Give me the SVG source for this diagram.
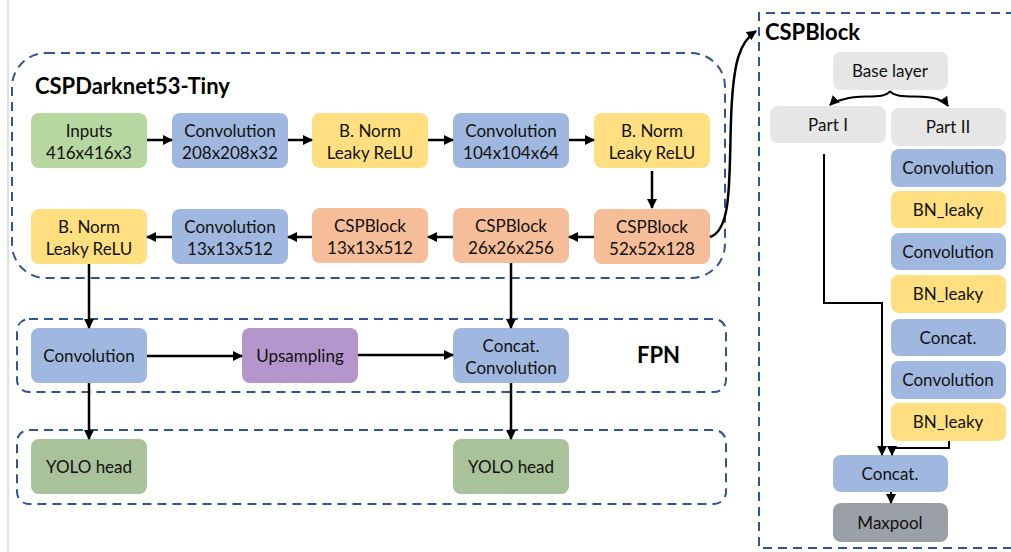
<svg xmlns="http://www.w3.org/2000/svg" width="1011" height="552" viewBox="0 0 1011 552">
<defs>
<marker id="ah" viewBox="0 0 10 10" refX="9" refY="5" markerWidth="4" markerHeight="4" orient="auto" markerUnits="strokeWidth">
<path d="M0,0 L10,5 L0,10 z" fill="#000"/>
</marker>
<marker id="ah2" viewBox="0 0 10 10" refX="9" refY="5" markerWidth="5" markerHeight="5" orient="auto" markerUnits="strokeWidth">
<path d="M0,0 L10,5 L0,10 z" fill="#000"/>
</marker>
</defs>
<style>
.grp{fill:none;stroke:#2f5597;stroke-width:2;stroke-dasharray:9 6}
.n{rx:8;ry:8}
.green{fill:#b7d7a0}
.blue{fill:#a0b8e0}
.yellow{fill:#ffdf80}
.orange{fill:#f5bd98}
.purple{fill:#b596cc}
.yolo{fill:#a9c29a}
.gray{fill:#e6e6e6}
.dark{fill:#9ba0a6}
text{font-family:Lato,"Open Sans","Liberation Sans",sans-serif;font-size:17px;fill:#111;text-anchor:middle}
.title{font-weight:bold;font-size:22px;fill:#000;text-anchor:start}
.c{fill:none;stroke:#000;stroke-width:2.5}
.c2{fill:none;stroke:#000;stroke-width:2}
</style>
<rect width="1011" height="552" fill="#fff"/>
<line x1="8" y1="0" x2="8" y2="552" stroke="#d4d4d4" stroke-width="1.5"/>

<g id="groups">
<rect class="grp" x="12" y="53" width="713" height="225" rx="34"/>
<rect class="grp" x="17" y="319" width="709" height="73" rx="12"/>
<rect class="grp" x="17" y="430" width="709" height="74" rx="12"/>
<path class="grp" d="M1015,13 H759 V548 H1015"/>
<text class="title" x="35" y="94">CSPDarknet53-Tiny</text>
<text class="title" x="765" y="40">CSPBlock</text>
<text class="title" x="637" y="363">FPN</text>
</g>

<g id="n-inputs"><rect class="n green" x="31" y="113" width="116" height="55"/><text x="89" y="137">Inputs</text><text x="89" y="159">416x416x3</text></g>
<g id="n-conv1"><rect class="n blue" x="172" y="113" width="116" height="55"/><text x="230" y="137">Convolution</text><text x="230" y="159">208x208x32</text></g>
<g id="n-bn1"><rect class="n yellow" x="312" y="113" width="116" height="55"/><text x="370" y="137">B. Norm</text><text x="370" y="159">Leaky ReLU</text></g>
<g id="n-conv2"><rect class="n blue" x="453" y="113" width="116" height="55"/><text x="511" y="137">Convolution</text><text x="511" y="159">104x104x64</text></g>
<g id="n-bn2"><rect class="n yellow" x="594" y="113" width="116" height="55"/><text x="652" y="137">B. Norm</text><text x="652" y="159">Leaky ReLU</text></g>

<g id="n-bn3"><rect class="n yellow" x="31" y="209" width="116" height="55"/><text x="89" y="233">B. Norm</text><text x="89" y="255">Leaky ReLU</text></g>
<g id="n-conv3"><rect class="n blue" x="172" y="209" width="116" height="55"/><text x="230" y="233">Convolution</text><text x="230" y="255">13x13x512</text></g>
<g id="n-csp13"><rect class="n orange" x="312" y="208" width="116" height="55"/><text x="370" y="232">CSPBlock</text><text x="370" y="254">13x13x512</text></g>
<g id="n-csp26"><rect class="n orange" x="453" y="208" width="116" height="55"/><text x="511" y="232">CSPBlock</text><text x="511" y="254">26x26x256</text></g>
<g id="n-csp52"><rect class="n orange" x="594" y="209" width="116" height="55"/><text x="652" y="233">CSPBlock</text><text x="652" y="255">52x52x128</text></g>

<g id="n-fpnconv"><rect class="n blue" x="31" y="328" width="116" height="55"/><text x="89" y="362">Convolution</text></g>
<g id="n-up"><rect class="n purple" x="242" y="328" width="116" height="55"/><text x="300" y="362">Upsampling</text></g>
<g id="n-concatconv"><rect class="n blue" x="453" y="328" width="116" height="55"/><text x="511" y="352">Concat.</text><text x="511" y="374">Convolution</text></g>

<g id="n-yolo1"><rect class="n yolo" x="31" y="439" width="116" height="55"/><text x="89" y="473">YOLO head</text></g>
<g id="n-yolo2"><rect class="n yolo" x="453" y="439" width="116" height="55"/><text x="511" y="473">YOLO head</text></g>

<g id="n-base"><rect class="n gray" x="833" y="52" width="115" height="38"/><text x="890" y="77">Base layer</text></g>
<g id="n-part1"><rect class="n gray" x="770" y="106" width="116" height="37"/><text x="828" y="131">Part I</text></g>
<g id="n-part2"><rect class="n gray" x="891" y="108" width="115" height="38"/><text x="948" y="133">Part II</text></g>
<g id="n-c1"><rect class="n blue" x="891" y="149" width="115" height="38"/><text x="948" y="174">Convolution</text></g>
<g id="n-b1"><rect class="n yellow" x="891" y="191" width="115" height="37"/><text x="948" y="216">BN_leaky</text></g>
<g id="n-c2"><rect class="n blue" x="891" y="233" width="115" height="37"/><text x="948" y="258">Convolution</text></g>
<g id="n-b2"><rect class="n yellow" x="891" y="275" width="115" height="38"/><text x="948" y="300">BN_leaky</text></g>
<g id="n-cat1"><rect class="n blue" x="891" y="319" width="115" height="37"/><text x="948" y="344">Concat.</text></g>
<g id="n-c3"><rect class="n blue" x="891" y="361" width="115" height="38"/><text x="948" y="386">Convolution</text></g>
<g id="n-b3"><rect class="n yellow" x="891" y="403" width="115" height="38"/><text x="948" y="428">BN_leaky</text></g>
<g id="n-cat2"><rect class="n blue" x="833" y="455" width="115" height="37"/><text x="890" y="480">Concat.</text></g>
<g id="n-maxpool"><rect class="n dark" x="833" y="503" width="115" height="39"/><text x="890" y="529">Maxpool</text></g>

<g id="connectors">
<line class="c" x1="147" y1="140" x2="172" y2="140" marker-end="url(#ah)"/>
<line class="c" x1="288" y1="140" x2="312" y2="140" marker-end="url(#ah)"/>
<line class="c" x1="428" y1="140" x2="453" y2="140" marker-end="url(#ah)"/>
<line class="c" x1="569" y1="140" x2="594" y2="140" marker-end="url(#ah)"/>
<line class="c" x1="652" y1="171" x2="652" y2="208" marker-end="url(#ah)"/>
<line class="c" x1="594" y1="237" x2="569" y2="237" marker-end="url(#ah)"/>
<line class="c" x1="453" y1="237" x2="428" y2="237" marker-end="url(#ah)"/>
<line class="c" x1="312" y1="237" x2="288" y2="237" marker-end="url(#ah)"/>
<line class="c" x1="172" y1="237" x2="147" y2="237" marker-end="url(#ah)"/>
<line class="c" x1="89" y1="264" x2="89" y2="328" marker-end="url(#ah)"/>
<line class="c" x1="511" y1="263" x2="511" y2="328" marker-end="url(#ah)"/>
<line class="c" x1="147" y1="356" x2="242" y2="356" marker-end="url(#ah)"/>
<line class="c" x1="358" y1="355" x2="453" y2="355" marker-end="url(#ah)"/>
<line class="c" x1="89" y1="383" x2="89" y2="439" marker-end="url(#ah)"/>
<line class="c" x1="511" y1="383" x2="511" y2="439" marker-end="url(#ah)"/>
<path class="c" d="M710,237 C732,230 729,180 731,120 C733,60 740,42 756,31" marker-end="url(#ah)"/>
<path class="c2" d="M890,91 C885,100 860,94 845,99 C838,101 833,102 830,105" marker-end="url(#ah2)"/>
<path class="c2" d="M890,91 C896,100 922,94 937,99 C943,101 946,103 948,106" marker-end="url(#ah2)"/>
<path class="c2" d="M824,154 V303 H882 V455" marker-end="url(#ah2)"/>
<path class="c2" d="M949,441 V448 H892 V455" marker-end="url(#ah2)"/>
<line class="c2" x1="891" y1="492" x2="891" y2="503" marker-end="url(#ah2)"/>
</g>
</svg>
